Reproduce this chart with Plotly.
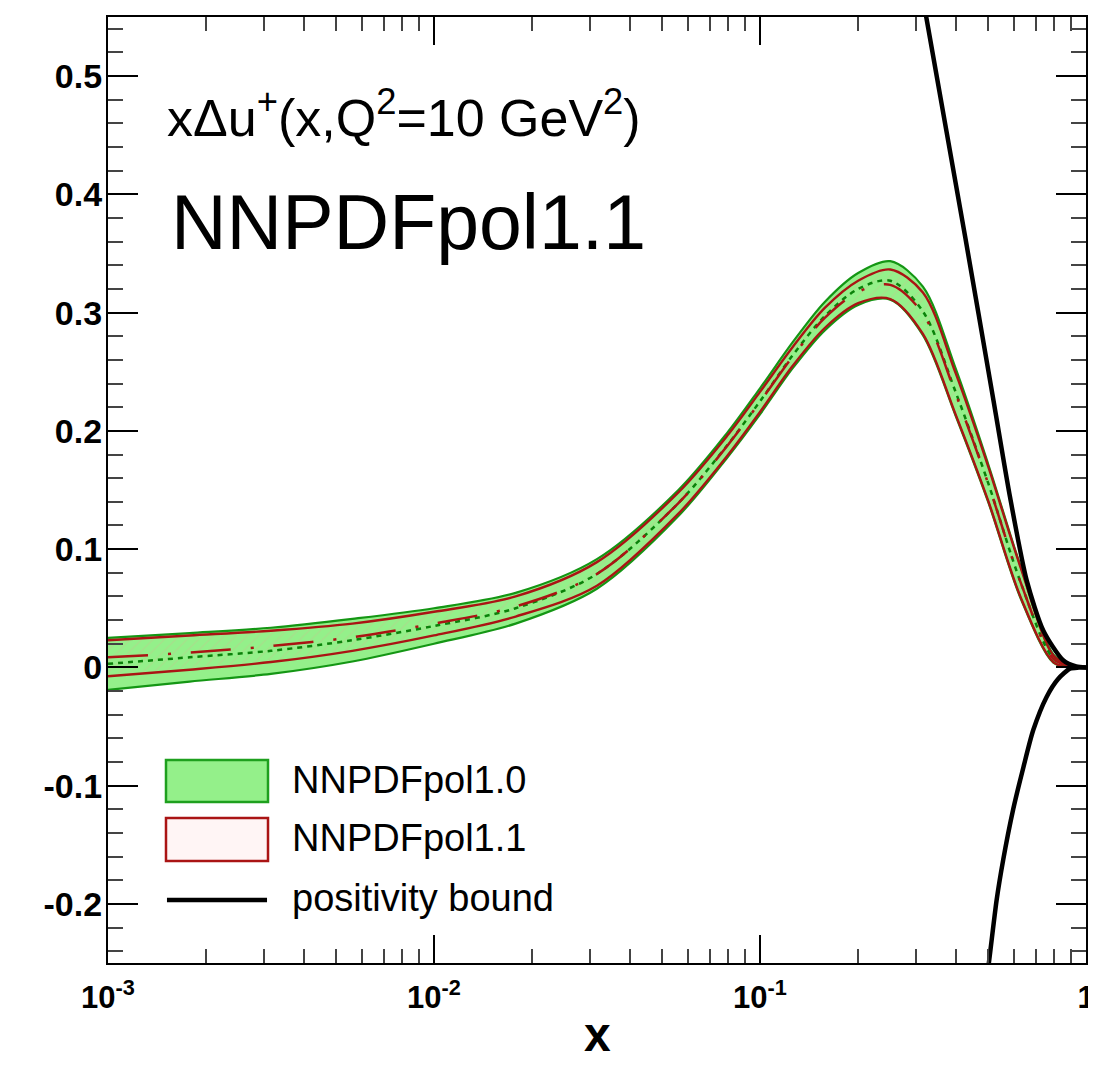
import plotly.graph_objects as go

# ---------------- data ----------------
x_grid = [0.001, 0.00178, 0.00316, 0.00562, 0.01, 0.0178, 0.0316, 0.0562, 0.0794, 0.1,
          0.126, 0.158, 0.2, 0.251, 0.316, 0.398, 0.501, 0.631, 0.794, 0.891, 1.0]

pol10_upper = [0.025, 0.029, 0.0335, 0.041, 0.050, 0.063, 0.0915, 0.150, 0.1985, 0.236,
               0.275, 0.309, 0.3335, 0.3435, 0.322, 0.253, 0.172, 0.085, 0.011, 0.002, 0.0]
pol10_lower = [-0.019, -0.012, -0.0055, 0.005, 0.020, 0.037, 0.0665, 0.128, 0.1775, 0.214,
               0.253, 0.285, 0.3065, 0.311, 0.281, 0.213, 0.140, 0.058, 0.004, 0.0, 0.0]
pol10_central = [0.003, 0.0085, 0.014, 0.023, 0.035, 0.050, 0.079, 0.139, 0.188, 0.225,
                 0.264, 0.297, 0.320, 0.327, 0.301, 0.233, 0.156, 0.0715, 0.0075, 0.001, 0.0]

pol11_upper = [0.023, 0.027, 0.031, 0.037, 0.047, 0.060, 0.089, 0.148, 0.196, 0.233,
               0.271, 0.304, 0.327, 0.3365, 0.317, 0.249, 0.170, 0.084, 0.010, 0.0018, 0.0]
pol11_lower = [-0.0075, -0.002, 0.0045, 0.014, 0.027, 0.043, 0.069, 0.130, 0.179, 0.216,
               0.255, 0.287, 0.308, 0.3115, 0.282, 0.214, 0.141, 0.059, 0.0045, 0.0, 0.0]
pol11_central = [0.0085, 0.0125, 0.018, 0.0255, 0.037, 0.0515, 0.079, 0.139, 0.1875, 0.2245,
                 0.263, 0.2955, 0.3175, 0.3235, 0.299, 0.2315, 0.1555, 0.0715, 0.0073, 0.001, 0.0]

bound_up_x = [0.30, 0.324, 0.426, 0.520, 0.585, 0.658, 0.740, 0.851, 0.933, 1.0]
bound_up_y = [0.603, 0.549, 0.364, 0.226, 0.1437, 0.0734, 0.031, 0.006, 0.0008, 0.0]

bound_lo_x = [0.49, 0.505, 0.532, 0.557, 0.598, 0.643, 0.689, 0.757, 0.82, 0.893, 0.951, 1.0]
bound_lo_y = [-0.275, -0.2473, -0.1966, -0.163, -0.120, -0.0842, -0.053, -0.025, -0.010,
              -0.0011, -0.0002, 0.0]

x_tickvals = [0.001, 0.01, 0.1, 1]
x_ticktext = ["10<sup>-3</sup>", "10<sup>-2</sup>", "10<sup>-1</sup>", "1"]
y_tickvals = [-0.2, -0.1, 0, 0.1, 0.2, 0.3, 0.4, 0.5]
y_ticktext = ["-0.2", "-0.1", "0", "0.1", "0.2", "0.3", "0.4", "0.5"]

legend_labels = ["NNPDFpol1.0", "NNPDFpol1.1", "positivity bound"]

# ---------------- styles ----------------
GREEN_FILL = "rgb(148,240,138)"
GREEN_LINE = "rgb(20,150,20)"
GREEN_DARK = "rgb(10,130,10)"
RED_LINE = "rgb(170,20,20)"
FONT = "Liberation Sans, Arial, Helvetica, sans-serif"
SM = 0.9

fig = go.Figure()

# NNPDFpol1.0 band
fig.add_trace(go.Scatter(x=x_grid, y=pol10_lower, mode="lines",
                         line=dict(color=GREEN_LINE, width=2.2, shape="spline", smoothing=SM),
                         showlegend=False, hoverinfo="skip"))
fig.add_trace(go.Scatter(x=x_grid, y=pol10_upper, mode="lines", fill="tonexty",
                         fillcolor=GREEN_FILL,
                         line=dict(color=GREEN_LINE, width=2.2, shape="spline", smoothing=SM),
                         showlegend=False, hoverinfo="skip"))

# NNPDFpol1.1 band (hatched)
fig.add_trace(go.Scatter(x=x_grid, y=pol11_lower, mode="lines",
                         line=dict(color=RED_LINE, width=2.4, shape="spline", smoothing=SM),
                         showlegend=False, hoverinfo="skip"))
fig.add_trace(go.Scatter(x=x_grid, y=pol11_upper, mode="lines", fill="tonexty",
                         fillcolor="rgba(0,0,0,0)",
                         fillpattern=dict(shape="/", fgcolor="rgba(255,140,140,0.35)",
                                          bgcolor="rgba(0,0,0,0)", size=8, solidity=0.15),
                         line=dict(color=RED_LINE, width=2.4, shape="spline", smoothing=SM),
                         showlegend=False, hoverinfo="skip"))

# central values
fig.add_trace(go.Scatter(x=x_grid, y=pol10_central, mode="lines",
                         line=dict(color=GREEN_DARK, width=2.5, dash="5px,5px",
                                   shape="spline", smoothing=SM),
                         showlegend=False, hoverinfo="skip"))
fig.add_trace(go.Scatter(x=x_grid, y=pol11_central, mode="lines",
                         line=dict(color=RED_LINE, width=2.5, dash="40px,20px,3px,20px",
                                   shape="spline", smoothing=SM),
                         showlegend=False, hoverinfo="skip"))

# positivity bounds
fig.add_trace(go.Scatter(x=bound_up_x, y=bound_up_y, mode="lines",
                         line=dict(color="black", width=4.5, shape="spline", smoothing=0.7),
                         showlegend=False, hoverinfo="skip"))
fig.add_trace(go.Scatter(x=bound_lo_x, y=bound_lo_y, mode="lines",
                         line=dict(color="black", width=4.5, shape="spline", smoothing=0.7),
                         showlegend=False, hoverinfo="skip"))

# ---------------- custom legend ----------------
shapes = [
    dict(type="rect", xref="paper", yref="paper", x0=0.0593, x1=0.1636, y0=0.1702, y1=0.2146,
         fillcolor=GREEN_FILL, line=dict(color="rgb(30,160,30)", width=2.5), layer="above"),
    dict(type="rect", xref="paper", yref="paper", x0=0.0593, x1=0.1636, y0=0.1078, y1=0.1533,
         fillcolor="rgba(255,225,225,0.35)", line=dict(color=RED_LINE, width=2.5), layer="above"),
    dict(type="line", xref="paper", yref="paper", x0=0.0603, x1=0.1626, y0=0.0666, y1=0.0666,
         line=dict(color="black", width=4.5), layer="above"),
]
annotations = []
for lbl, yp in zip(legend_labels, [0.1934, 0.1321, 0.0690]):
    annotations.append(dict(text=lbl, xref="paper", yref="paper", x=0.1861, y=yp,
                            xanchor="left", yanchor="middle", showarrow=False,
                            font=dict(family=FONT, size=38, color="black")))

# title texts
annotations.append(dict(text="xΔu<sup>+</sup>(x,Q<sup>2</sup>=10 GeV<sup>2</sup>)",
                        xref="paper", yref="paper", x=0.058, y=0.897,
                        xanchor="left", yanchor="middle", showarrow=False,
                        font=dict(family=FONT, size=52, color="black")))
annotations.append(dict(text="NNPDFpol1.1", xref="paper", yref="paper", x=0.062, y=0.783,
                        xanchor="left", yanchor="middle", showarrow=False,
                        font=dict(family=FONT, size=77, color="black")))
# x-axis title
annotations.append(dict(text="x", xref="paper", yref="paper", x=0.5, y=-0.0761,
                        xanchor="center", yanchor="middle", showarrow=False,
                        font=dict(family=FONT, size=48, color="black", weight="bold")))

# ---------------- axes ----------------
x_minor = [m * 10 ** e for e in (-3, -2, -1) for m in range(2, 10)]

# The page body adds an 8 px offset, so the figure is 8 px smaller on each axis
fig.update_layout(
    width=1088, height=1059,
    margin=dict(l=100, r=10, t=9, b=104),
    paper_bgcolor="white", plot_bgcolor="white",
    shapes=shapes, annotations=annotations,
    showlegend=False,
    xaxis=dict(type="log", range=[-3, 0], automargin=False,
               tickvals=x_tickvals, ticktext=x_ticktext,
               ticks="inside", ticklen=28, tickwidth=2, tickcolor="black",
               minor=dict(tickvals=x_minor, ticks="inside", ticklen=14, tickwidth=2,
                          tickcolor="#444", showgrid=False),
               showline=True, linewidth=2.2, linecolor="black", mirror="allticks",
               showgrid=False, zeroline=False, ticklabeloverflow="allow",
               tickfont=dict(family=FONT, size=31, color="black", weight="bold"),
               ticklabelstandoff=6),
    yaxis=dict(range=[-0.25, 0.55], automargin=False,
               tickvals=y_tickvals, ticktext=y_ticktext,
               ticks="inside", ticklen=30, tickwidth=2, tickcolor="black",
               minor=dict(dtick=0.02, ticks="inside", ticklen=15, tickwidth=2,
                          tickcolor="#444", showgrid=False),
               showline=True, linewidth=2.2, linecolor="black", mirror="allticks",
               showgrid=False, zeroline=False,
               tickfont=dict(family=FONT, size=34, color="black", weight="bold"),
               ticklabelstandoff=-3),
)

fig.write_html("out.html")
